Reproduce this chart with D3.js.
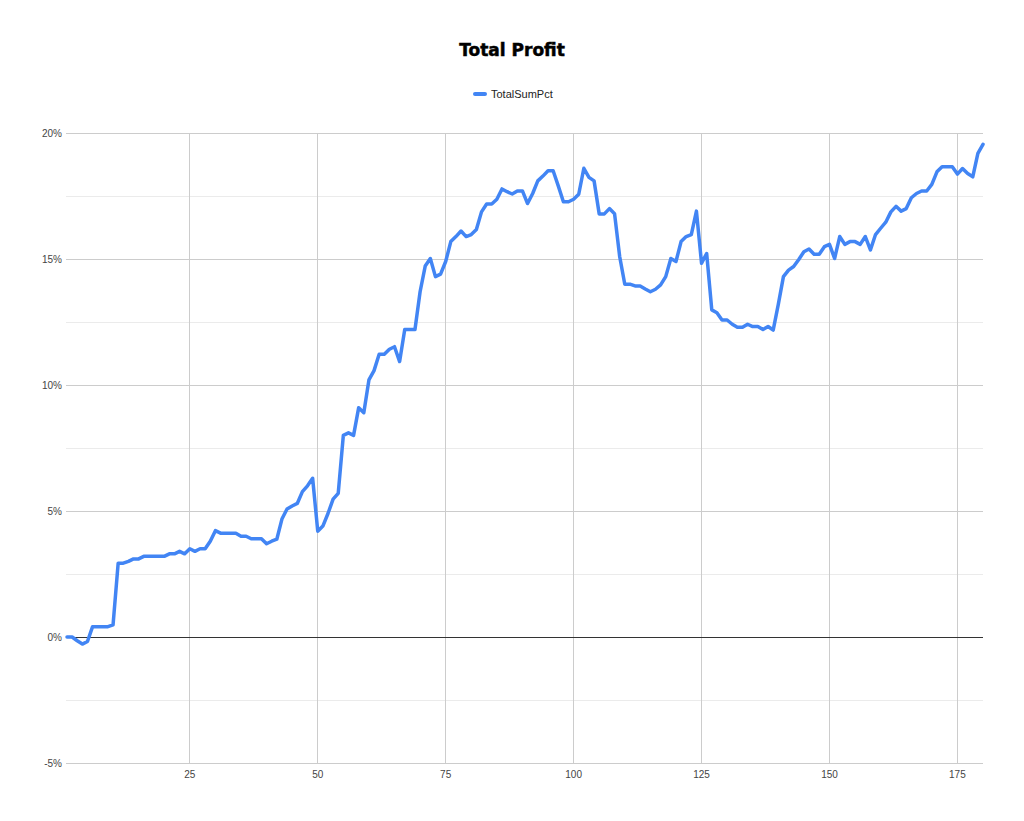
<!DOCTYPE html>
<html><head><meta charset="utf-8">
<script src="https://cdn.jsdelivr.net/npm/d3@7"></script>
<style>body{margin:0;background:#fff;}svg{display:block;font-family:"Liberation Sans",Arial,sans-serif;}</style>
</head><body><svg id="c" width="1024" height="821"></svg>
<script>
const title = "Total Profit";
const seriesName = "TotalSumPct";
const totalSumPct = [
0,0,-0.15,-0.28,-0.18,0.41,0.41,0.41,0.41,0.48,
2.93,2.93,3.0,3.1,3.1,3.2,3.2,3.2,3.2,3.2,
3.3,3.3,3.4,3.3,3.5,3.4,3.5,3.5,3.8,4.22,
4.12,4.12,4.12,4.12,4.0,4.0,3.9,3.9,3.9,3.7,
3.8,3.88,4.68,5.08,5.2,5.3,5.77,6.0,6.3,4.2,
4.4,4.9,5.47,5.7,8.0,8.1,8.0,9.1,8.9,10.2,
10.57,11.22,11.22,11.42,11.52,10.93,12.2,12.2,12.2,13.7,
14.72,15.02,14.3,14.4,14.9,15.69,15.89,16.11,15.89,15.97,
16.17,16.87,17.18,17.18,17.37,17.78,17.67,17.58,17.7,17.7,
17.2,17.6,18.1,18.29,18.5,18.5,17.9,17.27,17.27,17.37,
17.57,18.6,18.24,18.1,16.79,16.79,17.0,16.8,15.1,14.0,
14.0,13.93,13.93,13.81,13.7,13.8,13.97,14.3,15.02,14.9,
15.69,15.89,15.97,16.9,14.83,15.22,12.98,12.87,12.58,12.58,
12.41,12.29,12.29,12.41,12.32,12.32,12.2,12.32,12.18,13.2,
14.3,14.56,14.7,14.98,15.29,15.4,15.19,15.19,15.49,15.58,
15.02,15.89,15.58,15.69,15.69,15.58,15.89,15.36,15.97,16.22,
16.46,16.87,17.09,16.9,17.0,17.43,17.6,17.7,17.7,17.96,
18.46,18.66,18.66,18.66,18.37,18.59,18.39,18.26,19.19,19.55
];
const xValues = totalSumPct.map((d,i)=>i+1);
const xTicks = [25,50,75,100,125,150,175];
const yTicks = [-5,0,5,10,15,20];
const yMinor = [-2.5,2.5,7.5,12.5,17.5];

const svg = d3.select("#c");
const x = d3.scaleLinear().domain([1,180]).range([67,983]);
const y = d3.scaleLinear().domain([-5,20]).range([763,133]);

svg.append("g").selectAll("line").data(yMinor).join("line")
  .attr("x1",66).attr("x2",983).attr("y1",d=>y(d)).attr("y2",d=>y(d))
  .attr("stroke","#ebebeb").attr("stroke-width",1).attr("shape-rendering","crispEdges");
svg.append("g").selectAll("line").data(yTicks.filter(d=>d!==0)).join("line")
  .attr("x1",66).attr("x2",983).attr("y1",d=>y(d)).attr("y2",d=>y(d))
  .attr("stroke","#cccccc").attr("stroke-width",1).attr("shape-rendering","crispEdges");
svg.append("g").selectAll("line").data(xTicks).join("line")
  .attr("x1",d=>x(d)).attr("x2",d=>x(d)).attr("y1",133).attr("y2",763)
  .attr("stroke","#cccccc").attr("stroke-width",1).attr("shape-rendering","crispEdges");
svg.append("line").attr("x1",66).attr("x2",983).attr("y1",y(0)).attr("y2",y(0))
  .attr("stroke","#333").attr("stroke-width",1).attr("shape-rendering","crispEdges");

svg.append("g").selectAll("text").data(yTicks).join("text")
  .attr("x",62).attr("y",d=>y(d)).attr("dy","0.35em").attr("text-anchor","end")
  .attr("font-size",10).attr("fill","#444").text(d=>d+"%");
svg.append("g").selectAll("text").data(xTicks).join("text")
  .attr("x",d=>x(d)).attr("y",774).attr("dy","0.35em").attr("text-anchor","middle")
  .attr("font-size",10).attr("fill","#444").text(d=>d);

const line = d3.line().x((d,i)=>x(xValues[i])).y(d=>y(d));
svg.append("path").datum(totalSumPct).attr("d",line)
  .attr("fill","none").attr("stroke","#4285F4").attr("stroke-width",3.5)
  .attr("stroke-linejoin","round").attr("stroke-linecap","round");

svg.append("text").attr("x",512).attr("y",56).attr("text-anchor","middle")
  .attr("font-size",17).attr("font-weight","bold").attr("fill","#000")
  .style("font-family","'DejaVu Sans',sans-serif").attr("stroke","#000").attr("stroke-width",0.5)
  .text(title);
svg.append("line").attr("x1",475).attr("x2",485).attr("y1",94).attr("y2",94)
  .attr("stroke","#4285F4").attr("stroke-width",4).attr("stroke-linecap","round");
svg.append("text").attr("x",491).attr("y",94).attr("dy","0.35em")
  .attr("font-size",11).attr("fill","#222").text(seriesName);
</script></body></html>
